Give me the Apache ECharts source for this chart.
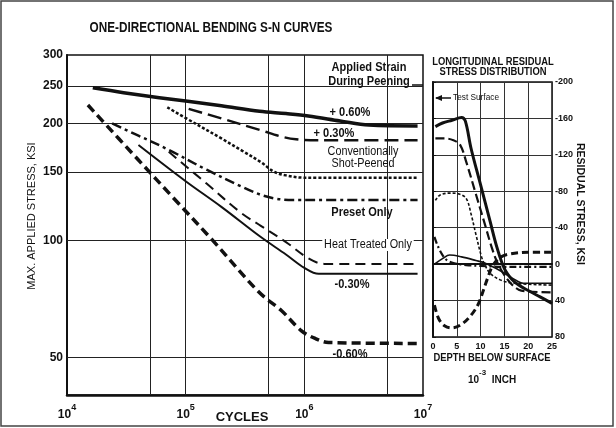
<!DOCTYPE html>
<html><head><meta charset="utf-8">
<script src="https://cdn.jsdelivr.net/npm/echarts@6/dist/echarts.min.js"></script>
<style>html,body{margin:0;padding:0;background:#fff}#c{width:616px;height:428px}</style>
</head><body><div id="c"></div>
<script>
// ---------- Left panel: S-N curves (cycles vs max applied stress, ksi) ----------
const p060_N = [1.65e4, 3e4, 6e4, 1.04e5, 2e5, 4.2e5, 7e5, 1.08e6, 2e6, 3.5e6, 9e6];
const p060_S = [247, 240, 233, 228, 222, 215, 212, 209, 203, 198, 197];
const p030_N = [1.06e5, 2e5, 4.3e5, 6.4e5, 8.5e5, 1.3e6, 9e6];
const p030_S = [218, 206, 192, 185, 182, 181, 181];
const conv_N = [7e4, 1.2e5, 2e5, 3e5, 4.3e5, 5.6e5, 7e5, 1e6, 9e6];
const conv_S = [220, 200, 183, 170, 159, 150, 147, 145, 145];
const preset_N = [2.4e4, 4e4, 7.2e4, 1.5e5, 2.9e5, 4.3e5, 5.8e5, 8e5, 9e6];
const preset_S = [200, 186, 171, 152, 138, 131, 128, 127, 127];
const heat_N = [7.2e4, 1.5e5, 2.9e5, 4.3e5, 7e5, 1.08e6, 1.47e6, 9e6];
const heat_S = [169, 140, 118, 109, 99, 90, 87, 87];
const m030_N = [4e4, 1e5, 2e5, 4.3e5, 7e5, 1e6, 1.32e6, 2e6, 9e6];
const m030_S = [176, 142, 122, 102, 92, 85, 82, 82, 82];
const m060_N = [1.5e4, 4e4, 8e4, 1.69e5, 4.16e5, 6.4e5, 9.4e5, 1.22e6, 1.6e6, 9e6];
const m060_S = [223, 161, 128, 100, 73.5, 66, 58.6, 56, 54.6, 54.3];

const stressTicks = [50, 100, 150, 200, 250, 300];
const stressGrid = [50, 100, 150, 200, 250];
const cycleGrid = [5e4, 1e5, 5e5, 1e6, 5e6];

// ---------- Right panel: residual stress vs depth (1e-3 inch) ----------
const rA_d = [0.5, 2, 4, 6, 6.8, 8, 10, 12, 13.4, 15, 16.6, 18, 20, 22.5, 25];
const rA_s = [-151, -155, -158, -161, -157, -127, -87, -47, -19, 5, 17, 23, 29, 36, 43];
const rB_d = [0.5, 2.5, 4.3, 5.7, 7, 9, 11, 12.3, 13.5, 15, 16.5, 18, 20, 25];
const rB_s = [-138, -138, -136, -131, -112, -77, -42, -19, -2, 12, 22, 28, 30, 31];
const rC_d = [0.5, 1.5, 3.5, 5.5, 7, 8, 9, 10.2, 11, 12, 14, 17, 25];
const rC_s = [-70, -76, -78, -77, -72, -55, -33, -8, 2, 10, 17, 21, 23];
const rD_d = [0.3, 1, 2, 3, 4.5, 7, 10, 15, 20, 25];
const rD_s = [-30, -20, -10, -4, -1, 1, 2, 3, 3, 3];
const rE_d = [0.3, 1.2, 2.5, 4, 6, 8, 9.5, 10.5, 11.5, 12.5, 14, 16, 20, 25];
const rE_s = [45, 60, 68, 70, 66, 56, 44, 30, 15, 2, -7, -11, -13, -13];
const rF_d = [0.3, 2, 3.5, 6, 9, 11, 13, 15, 17.5, 19, 25];
const rF_s = [0, -6, -10, -8, -4, -1, 4, 10, 18, 21, 21];

const FONT = '"Liberation Sans", Arial, sans-serif';
const INK = '#111';
const zip = (a, b) => a.map((v, i) => [v, b[i]]);

function mkLine(name, xi, X, Y, width, type) {
  return {
    name, type: 'line', xAxisIndex: xi, yAxisIndex: xi, data: zip(X, Y),
    showSymbol: false, smooth: 0.35, silent: true, z: 5,
    lineStyle: { color: INK, width, type, cap: 'butt', join: 'round' }
  };
}

const series = [
  mkLine('+0.60%', 0, p060_N, p060_S, 3.5, 'solid'),
  mkLine('+0.30%', 0, p030_N, p030_S, 2.5, [14, 6]),
  mkLine('Conventionally Shot-Peened', 0, conv_N, conv_S, 2.5, [3, 2]),
  mkLine('Preset Only', 0, preset_N, preset_S, 2.5, [10, 4, 3, 4]),
  mkLine('Heat Treated Only', 0, heat_N, heat_S, 2, [10, 6]),
  mkLine('-0.30%', 0, m030_N, m030_S, 2, 'solid'),
  mkLine('-0.60%', 0, m060_N, m060_S, 3.5, [9, 5]),
  mkLine('r +0.60%', 1, rA_d, rA_s, 3, 'solid'),
  mkLine('r +0.30%', 1, rB_d, rB_s, 2.2, [9, 4]),
  mkLine('r conv', 1, rC_d, rC_s, 1.6, [3, 2]),
  mkLine('r preset', 1, rD_d, rD_s, 2.2, [7, 3, 2, 3]),
  mkLine('r -0.60%', 1, rE_d, rE_s, 3, [7, 4]),
  mkLine('r -0.30%', 1, rF_d, rF_s, 1.6, 'solid')
];

const lblStyle = { color: INK, fontSize: 12, fontWeight: 'bold', fontFamily: FONT };
series[0].markLine = {
  silent: true, symbol: 'none', animation: false,
  lineStyle: { color: '#222', width: 1, type: 'solid' },
  label: { show: false },
  data: [
    ...stressTicks.map(v => ({
      yAxis: v,
      lineStyle: { width: stressGrid.includes(v) ? 1 : 0 },
      label: Object.assign({ show: true, position: 'start', distance: 4, formatter: String(v) }, lblStyle)
    })),
    ...cycleGrid.map(v => ({ xAxis: v }))
  ]
};

function txt(x, y, text, o) {
  o = o || {};
  return {
    type: 'text', x, y, z: 100, scaleX: o.sx || 1, rotation: o.rot || 0,
    style: {
      text, fill: INK, align: o.align || 'center', verticalAlign: 'middle',
      font: (o.bold === false ? '' : 'bold ') + (o.size || 12) + 'px ' + FONT,
      backgroundColor: o.bg, padding: o.bg ? [0, 2] : 0, rich: o.rich
    }
  };
}

const graphic = [
  { type: 'rect', shape: { x: 1, y: 1, width: 612, height: 425 }, z: 100,
    style: { fill: 'none', stroke: '#444', lineWidth: 1.5 } },
  txt(211, 28, 'ONE-DIRECTIONAL BENDING S-N CURVES', { size: 14, sx: 0.84 }),
  txt(32, 216, 'MAX. APPLIED STRESS, KSI', { size: 11, bold: false, rot: Math.PI / 2 }),
  txt(242, 417, 'CYCLES', { size: 13 }),
  txt(369, 68, 'Applied Strain', { sx: 0.92 }),
  txt(369, 82, 'During Peening', { sx: 0.92 }),
  { type: 'line', z: 100, shape: { x1: 412, y1: 85, x2: 423, y2: 85 }, style: { stroke: INK, lineWidth: 1.5 } },
  txt(350, 113, '+ 0.60%', { sx: 0.92 }),
  txt(334, 134, '+ 0.30%', { sx: 0.92 }),
  txt(363, 152, 'Conventionally', { sx: 0.9, bold: false }),
  txt(363, 164, 'Shot-Peened', { sx: 0.9, bold: false }),
  txt(362, 213, 'Preset Only', { sx: 0.92 }),
  txt(368, 245, 'Heat Treated Only', { sx: 0.9, bold: false, bg: '#fff' }),
  txt(352, 285, '-0.30%', { sx: 0.92 }),
  txt(350, 355, '-0.60%', { sx: 0.92 }),
  txt(493, 62, 'LONGITUDINAL RESIDUAL', { size: 10, sx: 0.94 }),
  txt(493, 72, 'STRESS DISTRIBUTION', { size: 10, sx: 0.94 }),
  txt(580, 204, 'RESIDUAL STRESS, KSI', { size: 10.5, rot: -Math.PI / 2 }),
  txt(492, 358, 'DEPTH BELOW SURFACE', { size: 10, sx: 0.94 }),
  txt(492, 377, '{b|10}{s|-3}{b|  INCH}', { size: 10, rich: {
    b: { fontSize: 10, fontWeight: 'bold', fontFamily: FONT, fill: INK, lineHeight: 16, verticalAlign: 'bottom' },
    s: { fontSize: 8, fontWeight: 'bold', fontFamily: FONT, fill: INK, lineHeight: 16, verticalAlign: 'top' } } }),
  { type: 'line', z: 100, shape: { x1: 436, y1: 98, x2: 451, y2: 98 }, style: { stroke: INK, lineWidth: 1.5 } },
  { type: 'polygon', z: 100, shape: { points: [[435, 98], [442, 95], [442, 101]] }, style: { fill: INK } },
  txt(453, 98, 'Test Surface', { size: 9, bold: false, align: 'left', sx: 0.92 })
];

const chart = echarts.init(document.getElementById('c'), null, { renderer: 'canvas' });
chart.setOption({
  animation: false,
  backgroundColor: '#fff',
  grid: [
    { left: 67, top: 55, width: 356, height: 340, show: true, borderColor: INK, borderWidth: 1.5 },
    { left: 433, top: 82, width: 119, height: 255, show: true, borderColor: INK, borderWidth: 1.5 }
  ],
  xAxis: [
    { gridIndex: 0, type: 'log', logBase: 10, min: 1e4, max: 1e7,
      axisLine: { show: true, lineStyle: { color: INK, width: 2.5 } },
      axisTick: { show: false }, splitLine: { show: false }, minorTick: { show: false },
      axisLabel: { margin: 8, showMinLabel: true, showMaxLabel: true,
        formatter: v => '{b|10}{s|' + Math.round(Math.log10(v)) + '}',
        rich: {
          b: { fontSize: 12, fontWeight: 'bold', fontFamily: FONT, color: INK, lineHeight: 18, verticalAlign: 'bottom' },
          s: { fontSize: 9, fontWeight: 'bold', fontFamily: FONT, color: INK, lineHeight: 18, verticalAlign: 'top' }
        } } },
    { gridIndex: 1, type: 'value', min: 0, max: 25, interval: 5,
      axisLine: { show: true, lineStyle: { color: INK, width: 2 } },
      axisTick: { show: false },
      splitLine: { show: true, lineStyle: { color: '#333', width: 1 } },
      axisLabel: { margin: 5, color: INK, fontSize: 9, fontWeight: 'bold', fontFamily: FONT } }
  ],
  yAxis: [
    { gridIndex: 0, type: 'log', logBase: 10, min: 40, max: 300,
      axisLine: { show: true, lineStyle: { color: INK, width: 2 } },
      axisTick: { show: false }, splitLine: { show: false }, axisLabel: { show: false } },
    { gridIndex: 1, type: 'value', position: 'right', inverse: true, min: -200, max: 80, interval: 40,
      axisLine: { show: true, lineStyle: { color: INK, width: 2 } },
      axisTick: { show: true, length: 3, lineStyle: { color: INK } },
      splitLine: { show: true, lineStyle: { color: '#333', width: 1 } },
      axisLabel: { margin: 3, color: INK, fontSize: 9, fontWeight: 'bold', fontFamily: FONT } }
  ],
  series,
  graphic
});
</script></body></html>
